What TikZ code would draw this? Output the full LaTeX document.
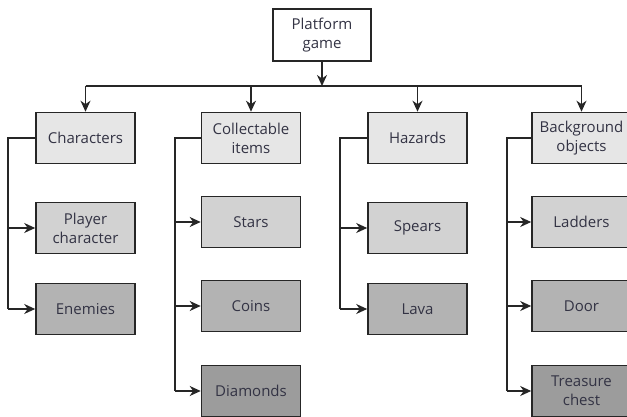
\documentclass[tikz,border=0pt]{standalone}
\usepackage{fontspec}
\setmainfont{Open Sans}
\usetikzlibrary{arrows.meta}
\definecolor{txt}{HTML}{333344}
\definecolor{lvA}{HTML}{E6E6E6}
\definecolor{lvB}{HTML}{D2D2D2}
\definecolor{lvC}{HTML}{B3B3B3}
\definecolor{lvD}{HTML}{9C9C9C}
\definecolor{lnc}{HTML}{262626}
\tikzset{
  >={Stealth[length=11pt,width=10pt,inset=3.5pt]},
  box/.style={draw=lnc, line width=1.6pt, rectangle, minimum width=99pt, minimum height=51pt,
    inner sep=1pt, align=center, text=txt, font=\fontsize{15}{19}\selectfont},
  arr/.style={line width=1.4pt, draw=lnc, fill=lnc, ->},
  ln/.style={line width=1.4pt, draw=lnc},
}
\begin{document}
\begin{tikzpicture}[x=1pt,y=1pt]
\useasboundingbox (0,-417) rectangle (627,0);
\clip (0,-417) rectangle (627,0);
\node[box, fill=white, minimum width=98pt, minimum height=52pt] (top) at (322,-35) {Platform\\game};
\node[box, fill=lvA] (char) at (85.5,-138) {Characters};
\node[box, fill=lvA] (coll) at (251,-138) {Collectable\\items};
\node[box, fill=lvA] (haz) at (417.5,-138) {Hazards};
\node[box, fill=lvA] (bg) at (581.5,-138) {Background\\objects};
% characters
\node[box, fill=lvB] (pc) at (85.5,-228) {Player\\character};
\node[box, fill=lvC] (en) at (85.5,-309) {Enemies};
% collectables
\node[box, fill=lvB] (stars) at (251,-222) {Stars};
\node[box, fill=lvC] (coins) at (251,-306) {Coins};
\node[box, fill=lvD] (dia) at (251,-391) {Diamonds};
% hazards
\node[box, fill=lvB] (spears) at (417.5,-228) {Spears};
\node[box, fill=lvC] (lava) at (417.5,-309) {Lava};
% background
\node[box, fill=lvB] (lad) at (581.5,-222) {Ladders};
\node[box, fill=lvC] (door) at (581.5,-306) {Door};
\node[box, fill=lvD] (chest) at (581.5,-391) {Treasure\\chest};
% bus
\coordinate (bus) at (0,-86);
\draw[arr] (top.south) -- (top.south |- bus);
\draw[ln] (char.north |- bus) -- (bg.north |- bus);
\foreach \n in {char,coll,haz,bg} \draw[arr] (\n.north |- bus) -- (\n.north);
% brackets
\coordinate (cx) at (8,0);
\coordinate (lx) at (175,0);
\coordinate (hx) at (340,0);
\coordinate (bx) at (507,0);
\draw[ln] (char.west) -- (char.west -| cx) -- (en.west -| cx);
\draw[arr] (pc.west -| cx) -- (pc.west);
\draw[arr] (en.west -| cx) -- (en.west);
\draw[ln] (coll.west) -- (coll.west -| lx) -- (dia.west -| lx);
\draw[arr] (stars.west -| lx) -- (stars.west);
\draw[arr] (coins.west -| lx) -- (coins.west);
\draw[arr] (dia.west -| lx) -- (dia.west);
\draw[ln] (haz.west) -- (haz.west -| hx) -- (lava.west -| hx);
\draw[arr] (spears.west -| hx) -- (spears.west);
\draw[arr] (lava.west -| hx) -- (lava.west);
\draw[ln] (bg.west) -- (bg.west -| bx) -- (chest.west -| bx);
\draw[arr] (lad.west -| bx) -- (lad.west);
\draw[arr] (door.west -| bx) -- (door.west);
\draw[arr] (chest.west -| bx) -- (chest.west);
\end{tikzpicture}
\end{document}
